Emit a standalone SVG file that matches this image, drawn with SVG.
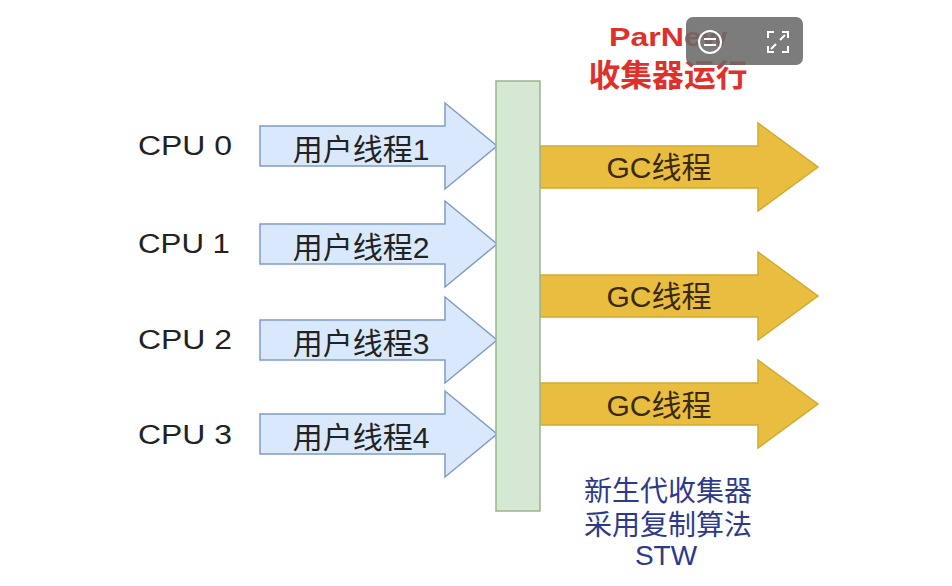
<svg xmlns="http://www.w3.org/2000/svg" width="952" height="586" viewBox="0 0 952 586">
<style>
  text { font-family: "Liberation Sans", "Noto Sans CJK SC", sans-serif; }
  .cpu { font-size: 27px; fill: #222; }
  .ut { fill: #dae8fc; stroke: #7f9cc8; stroke-width: 1.5; }
  .gc { fill: #e9bd3f; stroke: #d4a92e; stroke-width: 1.5; }
  .lbl { font-size: 30px; fill: #222; text-anchor: middle; }
  .gcl { font-size: 30px; fill: #3a2a10; text-anchor: middle; }
  .title { font-weight: bold; fill: #e0302a; text-anchor: middle; }
  .note { font-size: 28px; fill: #2d3a8c; text-anchor: middle; }
</style>
<rect width="952" height="586" fill="#ffffff"/>

<g id="cpu-labels">
  <text class="cpu" x="138" y="155" textLength="94" lengthAdjust="spacingAndGlyphs">CPU 0</text>
  <text class="cpu" x="138" y="253" textLength="92" lengthAdjust="spacingAndGlyphs">CPU 1</text>
  <text class="cpu" x="138" y="349" textLength="94" lengthAdjust="spacingAndGlyphs">CPU 2</text>
  <text class="cpu" x="138" y="444" textLength="94" lengthAdjust="spacingAndGlyphs">CPU 3</text>
</g>

<g id="user-thread-1">
  <polygon class="ut" points="260,126 445,126 445,103 497,146 445,189 445,166 260,166"/>
  <text class="lbl" x="361" y="160">用户线程1</text>
</g>
<g id="user-thread-2">
  <polygon class="ut" points="260,224 445,224 445,201 497,244 445,287 445,264 260,264"/>
  <text class="lbl" x="361" y="258">用户线程2</text>
</g>
<g id="user-thread-3">
  <polygon class="ut" points="260,320 445,320 445,297 497,340 445,383 445,360 260,360"/>
  <text class="lbl" x="361" y="354">用户线程3</text>
</g>
<g id="user-thread-4">
  <polygon class="ut" points="260,414 445,414 445,391 497,434 445,477 445,454 260,454"/>
  <text class="lbl" x="361" y="448">用户线程4</text>
</g>

<g id="gc-thread-1">
  <polygon class="gc" points="540,146 758,146 758,123 818,167 758,211 758,188 540,188"/>
  <text class="gcl" x="659" y="178">GC线程</text>
</g>
<g id="gc-thread-2">
  <polygon class="gc" points="540,275 758,275 758,252 818,296 758,340 758,317 540,317"/>
  <text class="gcl" x="659" y="307">GC线程</text>
</g>
<g id="gc-thread-3">
  <polygon class="gc" points="540,383 758,383 758,360 818,404 758,448 758,425 540,425"/>
  <text class="gcl" x="659" y="416">GC线程</text>
</g>

<g id="safepoint-bar">
  <rect x="496" y="81" width="44" height="430" fill="#d5e8d4" stroke="#9ab58a" stroke-width="1.5"/>
</g>

<g id="title">
  <text class="title" x="668" y="46" font-size="25" textLength="118" lengthAdjust="spacingAndGlyphs">ParNew</text>
  <text class="title" x="668" y="86" font-size="31" textLength="159" lengthAdjust="spacingAndGlyphs">收集器运行</text>
</g>

<g id="note">
  <text class="note" x="668" y="501">新生代收集器</text>
  <text class="note" x="668" y="535">采用复制算法</text>
  <text class="note" x="666" y="565" font-size="24">STW</text>
</g>

<g id="connectors"></g>

<g id="player-overlay">
  <rect x="686" y="17" width="117" height="48" rx="7" fill="#6a6a6a" fill-opacity="0.88"/>
  <circle cx="710" cy="42" r="11" fill="none" stroke="#ffffff" stroke-width="2"/>
  <line x1="704" y1="39" x2="716" y2="39" stroke="#ffffff" stroke-width="2"/>
  <line x1="704" y1="45" x2="716" y2="45" stroke="#ffffff" stroke-width="2"/>
  <g fill="none" stroke="#ffffff" stroke-width="2">
    <path d="M768,38 V32 H774"/>
    <path d="M782,32 H788 V38"/>
    <path d="M788,46 V52 H782"/>
    <path d="M774,52 H768 V46"/>
    <path d="M771,49 L776,44 M785,35 L780,40"/>
  </g>
</g>
</svg>
